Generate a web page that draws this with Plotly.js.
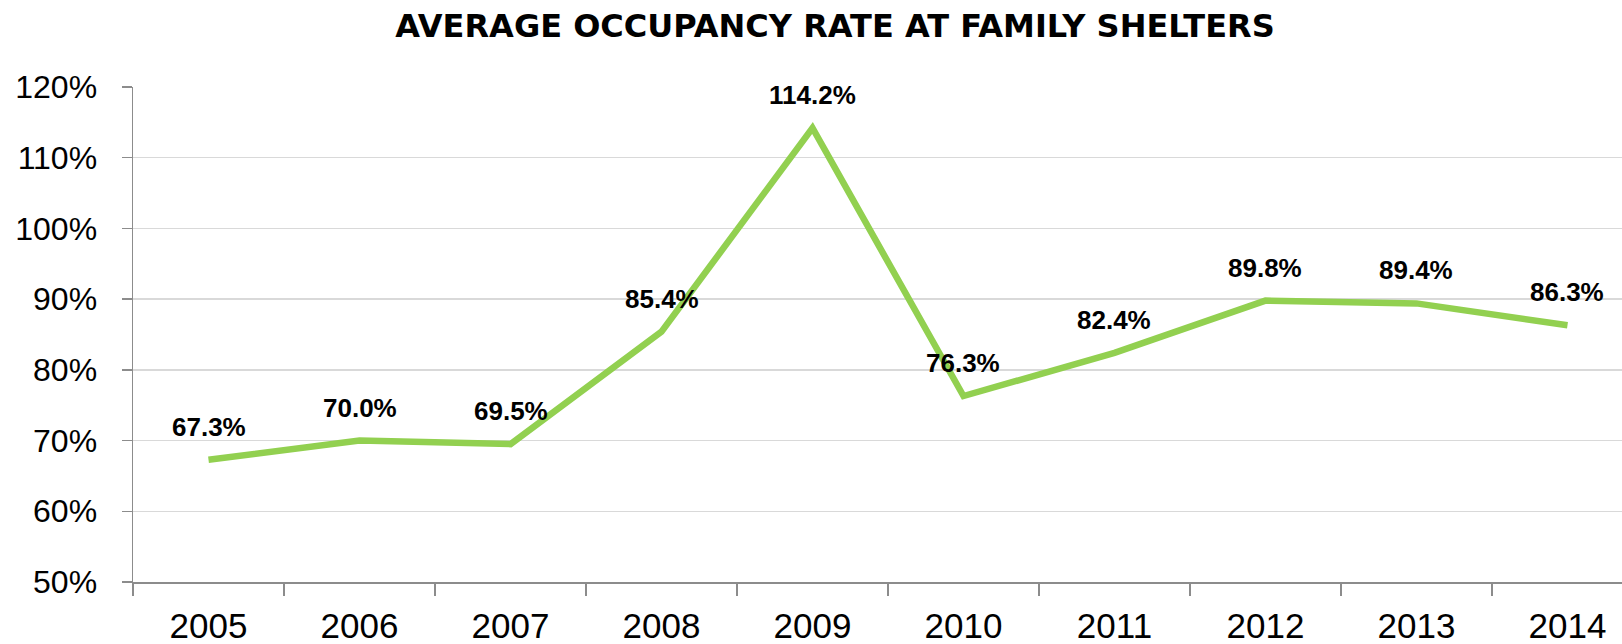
<!DOCTYPE html>
<html>
<head>
<meta charset="utf-8">
<script src="https://cdn.plot.ly/plotly-3.0.1.min.js"></script>
<style>html,body{margin:0;padding:0;background:#fff;}#chart{width:1622px;height:644px;}</style>
</head>
<body>
<div id="chart"></div>
<script>
const years = ['2005','2006','2007','2008','2009','2010','2011','2012','2013','2014'];
const occupancy = [67.3, 70.0, 69.5, 85.4, 114.2, 76.3, 82.4, 89.8, 89.4, 86.3];
const labels = ['67.3%','70.0%','69.5%','85.4%','114.2%','76.3%','82.4%','89.8%','89.4%','86.3%'];
const yTicks = [50, 60, 70, 80, 90, 100, 110, 120];

const trace = {
  x: years, y: occupancy, type: 'scatter', mode: 'lines',
  line: {color: '#92D050', width: 6.5, shape: 'linear'},
  hoverinfo: 'skip', showlegend: false
};

// category axis: annotation x given as category index
const annotations = years.map((yr, i) => ({
  x: i, y: occupancy[i], xref: 'x', yref: 'y',
  text: '<b>' + labels[i] + '</b>', showarrow: false,
  yshift: 33, xanchor: 'center', yanchor: 'middle',
  font: {family: 'Liberation Sans, Arial, sans-serif', size: 26, color: '#000'}
}));

const layout = {
  width: 1622, height: 644,
  paper_bgcolor: '#fff', plot_bgcolor: '#fff',
  margin: {l: 133, r: 0, t: 87, b: 62, pad: 0},
  title: {
    text: '<b>AVERAGE OCCUPANCY RATE AT FAMILY SHELTERS</b>',
    font: {family: 'DejaVu Sans, sans-serif', size: 32, color: '#000'},
    x: 835/1622, xanchor: 'center', xref: 'container',
    y: 1 - 26/644, yanchor: 'middle', yref: 'container'
  },
  xaxis: {
    type: 'category', categoryorder: 'array', categoryarray: years,
    range: [-0.5, 9.361], tickson: 'boundaries',
    ticks: 'outside', ticklen: 12, tickcolor: '#8c8c8c', tickwidth: 1.5,
    showline: true, linecolor: '#8c8c8c', linewidth: 1.5,
    showgrid: false, zeroline: false,
    tickfont: {family: 'Liberation Sans, Arial, sans-serif', size: 35, color: '#000'},
    ticklabelstandoff: 12, fixedrange: true
  },
  yaxis: {
    range: [50, 120], tickvals: yTicks, ticktext: yTicks.map(v => v + '%'),
    ticks: 'outside', ticklen: 10, tickcolor: '#8c8c8c', tickwidth: 1.5,
    showline: true, linecolor: '#8c8c8c', linewidth: 1.5,
    showgrid: true, gridcolor: '#d9d9d9', gridwidth: 1.5, zeroline: false,
    tickfont: {family: 'Liberation Sans, Arial, sans-serif', size: 32, color: '#000'},
    ticklabelstandoff: 18, fixedrange: true
  },
  annotations: annotations
};

Plotly.newPlot('chart', [trace], layout, {displayModeBar: false, staticPlot: true});
</script>
</body>
</html>
